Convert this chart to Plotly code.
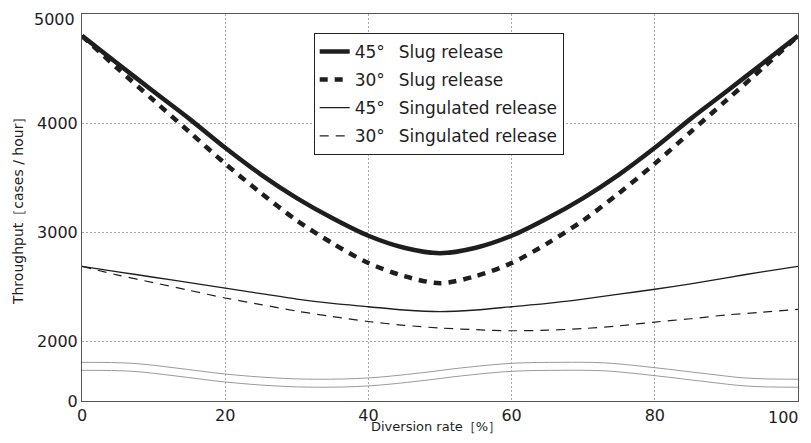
import plotly.graph_objects as go

# ---- data ----
diversion_rate = [0, 5, 10, 15, 20, 25, 30, 35, 40, 45, 50, 55, 60, 65, 70, 75, 80, 85, 90, 95, 100]
slug_45 = [4800, 4545, 4290, 4040, 3775, 3530, 3315, 3130, 2970, 2860, 2810, 2860, 2970, 3130, 3315, 3530, 3775, 4040, 4290, 4545, 4800]
slug_30 = [4800, 4500, 4210, 3920, 3630, 3360, 3110, 2900, 2720, 2600, 2535, 2600, 2720, 2900, 3110, 3360, 3630, 3920, 4210, 4500, 4800]
singulated_45 = [2690, 2640, 2590, 2540, 2490, 2440, 2390, 2350, 2320, 2290, 2275, 2290, 2320, 2350, 2390, 2435, 2480, 2530, 2585, 2640, 2690]
singulated_30 = [2690, 2610, 2540, 2470, 2400, 2340, 2280, 2230, 2185, 2150, 2125, 2110, 2100, 2105, 2120, 2145, 2180, 2210, 2245, 2270, 2295]

# axis-break wavy lines (drawn in the compressed 0-2000 band)
break_x = [0, 7, 13, 20, 27, 33, 40, 47, 53, 60, 67, 73, 80, 87, 93, 100]
break_upper = [1811, 1802, 1760, 1704, 1668, 1656, 1668, 1712, 1760, 1802, 1811, 1806, 1762, 1708, 1666, 1656]
break_lower = [1738, 1729, 1687, 1631, 1595, 1583, 1595, 1639, 1687, 1729, 1738, 1733, 1689, 1635, 1593, 1583]

# tick labels; the two at the extreme corners are placed as edge labels so they stay inside the page
y_tick_vals = [1457, 2000, 3000, 4000, 5000]
y_tick_text = ["0", "2000", "3000", "4000", ""]
x_tick_vals = [0, 20, 40, 60, 80, 100]
x_tick_text = ["0", "20", "40", "60", "80", ""]
x_edge_value, x_edge_label = 100, "100"
y_edge_value, y_edge_label = 5000, "5000"

names = ["45°\u2002 Slug release", "30°\u2002 Slug release",
         "45°\u2002 Singulated release", "30°\u2002 Singulated release"]

FONT = "DejaVu Sans, Liberation Sans, Arial, sans-serif"
INK = "#1e1e1e"

fig = go.Figure()

for yb in (break_upper, break_lower):
    fig.add_trace(go.Scatter(x=break_x, y=yb, mode="lines", showlegend=False,
                             hoverinfo="skip",
                             line=dict(color="#9a9a9a", width=1, shape="spline", smoothing=1)))

series = [
    (slug_45, dict(color=INK, width=4.5)),
    (slug_30, dict(color=INK, width=4.5, dash="8px,7px")),
    (singulated_45, dict(color=INK, width=1.3)),
    (singulated_30, dict(color=INK, width=1.2, dash="9px,7px")),
]
for i, (ys, ln) in enumerate(series):
    ln = dict(ln, shape="spline", smoothing=0.8)
    fig.add_trace(go.Scatter(x=diversion_rate, y=ys, mode="lines", name=names[i],
                             legendgroup=f"g{i}", line=ln))

# the page body keeps its 8px margin, so the figure is sized to fill the 811x443 window
fig.update_layout(
    width=795, height=427,
    margin=dict(l=74, r=5, t=6, b=34),
    paper_bgcolor="white", plot_bgcolor="white",
    font=dict(family=FONT, color=INK, size=16),
    legend=dict(
        x=0.3236, y=0.951, xanchor="left", yanchor="top",
        bgcolor="white", bordercolor="#222", borderwidth=1,
        font=dict(size=17, family=FONT, color=INK),
        traceorder="grouped", tracegroupgap=3, itemwidth=30,
    ),
    xaxis=dict(
        range=[0, 100], tickvals=x_tick_vals, ticktext=x_tick_text, ticks="",
        showgrid=True, gridcolor="#a8a8a8", griddash="2px,2px", gridwidth=1,
        showline=True, linecolor="#555", linewidth=1, mirror=True,
        zeroline=False, tickfont=dict(size=16),
    ),
    yaxis=dict(
        range=[1457, 5000], tickvals=y_tick_vals, ticktext=y_tick_text, ticks="",
        showgrid=True, gridcolor="#a8a8a8", griddash="2px,2px", gridwidth=1,
        showline=True, linecolor="#555", linewidth=1, mirror=True,
        zeroline=False, tickfont=dict(size=16),
    ),
    annotations=[
        dict(text=x_edge_label, xref="x", yref="paper", x=x_edge_value, y=0,
             xanchor="right", yanchor="middle", xshift=3, yshift=-16,
             showarrow=False, font=dict(size=16, family=FONT, color=INK)),
        dict(text=y_edge_label, xref="paper", yref="y", x=0, y=y_edge_value,
             xanchor="right", yanchor="middle", xshift=-5, yshift=-5,
             showarrow=False, font=dict(size=16, family=FONT, color=INK)),
        dict(text="Diversion rate［%］", xref="paper", yref="paper",
             x=0.494, y=-0.0646, xanchor="center", yanchor="middle",
             showarrow=False, font=dict(size=13, family=FONT, color=INK)),
        dict(text="Throughput［cases / hour］", xref="paper", yref="paper",
             x=-0.09, y=0.5, xanchor="center", yanchor="middle", textangle=-90,
             showarrow=False, font=dict(size=14, family=FONT, color=INK)),
    ],
)

fig.write_html("out.html", config={"displayModeBar": False})
